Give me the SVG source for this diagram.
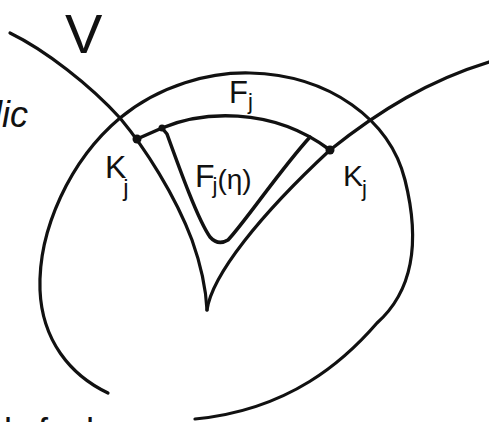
<svg xmlns="http://www.w3.org/2000/svg" width="489" height="422" viewBox="0 0 489 422">
<style>
.ln{fill:none;stroke:#111;stroke-width:3.2;stroke-linecap:round;stroke-linejoin:round}
.in{fill:none;stroke:#111;stroke-width:3.5;stroke-linecap:round;stroke-linejoin:round}
.dot{fill:#111}
.lb{font-family:"Liberation Sans","DejaVu Sans",sans-serif;fill:#111}
</style>
<rect width="489" height="422" fill="#fff"/>
<g id="connectors">
<path id="curve-V-left" class="ln" d="M10,33 C45,50 90,85 120,118 C145,148 175,195 192,240 C202,268 206,290 207,310"/>
<path id="curve-V-right" class="ln" d="M207,310 C212,275 260,215 330,150 C380,110 430,80 489,62"/>
<path id="oval" class="ln" d="M108,393 C70,375 42,340 40,290 C38,230 70,160 120,118 C160,85 210,72 250,73 C330,75 390,120 405,180 C420,240 414,290 377,323 C345,360 290,410 195,419"/>
<path id="inner-arc" class="in" d="M137,139 L162,128 C200,112 270,105 330,150"/>
<path id="inner-triangle" class="in" d="M162,128 L167,134 C180,170 198,220 210,237 Q218,246 228,240 C245,222 280,170 310,137"/>
</g>
<g id="node-dots">
<circle class="dot" cx="137" cy="139" r="4.5"/>
<circle class="dot" cx="330" cy="150" r="4.5"/>
<circle class="dot" cx="162" cy="128" r="3.5"/>
</g>
<g id="label-V"><text class="lb" x="65" y="53" font-size="56">V</text></g>
<g id="label-lic"><text class="lb" x="-6" y="127" font-size="36" font-style="italic">lic</text></g>
<g id="label-Fj"><text class="lb" x="229" y="103" font-size="31">F<tspan font-size="22" dy="6">j</tspan></text></g>
<g id="label-Kj-left"><text class="lb" x="105" y="178" font-size="32">K<tspan font-size="24" dx="-3" dy="18">j</tspan></text></g>
<g id="label-Kj-right"><text class="lb" x="343" y="186" font-size="30">K<tspan font-size="22" dx="-1" dy="10">j</tspan></text></g>
<g id="label-Fj-eta"><text class="lb" x="195" y="187" font-size="32">F<tspan font-size="22" dx="-2" dy="6">j</tspan><tspan font-size="28" dy="-4">(η)</tspan></text></g>
<g id="label-bottom"><text class="lb" y="444" font-size="36"><tspan x="4">l</tspan><tspan x="38">f</tspan><tspan x="86">h</tspan></text></g>
</svg>
